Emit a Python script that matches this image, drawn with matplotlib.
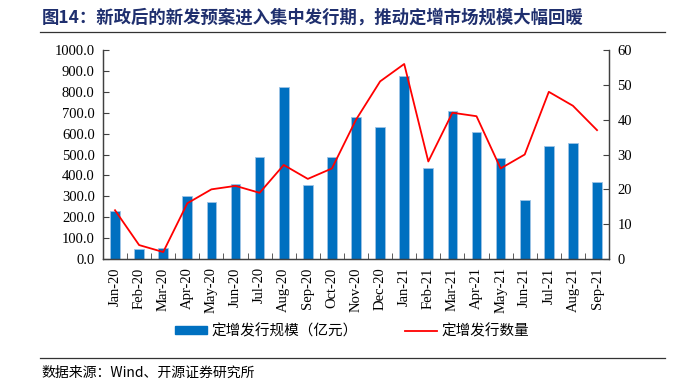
import matplotlib
matplotlib.use('Agg')
import matplotlib.pyplot as plt
from matplotlib.lines import Line2D
from matplotlib.patches import Patch
import numpy as np

# ============================= DATOS =================================
meses = ['Jan-20', 'Feb-20', 'Mar-20', 'Apr-20', 'May-20', 'Jun-20', 'Jul-20',
         'Aug-20', 'Sep-20', 'Oct-20', 'Nov-20', 'Dec-20', 'Jan-21', 'Feb-21',
         'Mar-21', 'Apr-21', 'May-21', 'Jun-21', 'Jul-21', 'Aug-21', 'Sep-21']
escala = [230, 49, 52, 302, 273, 358, 489, 821, 354, 488, 680, 630, 874, 435,
          710, 608, 481, 283, 543, 557, 368]   # 亿元
cantidad = [14, 4, 2, 16, 20, 21, 19, 27, 23, 26, 40, 51, 56, 28,
            42, 41, 26, 30, 48, 44, 37]

titulo = '图14：新政后的新发预案进入集中发行期，推动定增市场规模大幅回暖'
fuente = '数据来源：Wind、开源证券研究所'
leyenda_barras = '定增发行规模（亿元）'
leyenda_linea = '定增发行数量'

# ============================= ESTILO =================================
cjk = ['Noto Sans CJK SC', 'DejaVu Sans']
serif = 'Liberation Serif'
azul = '#0070C0'
rojo = '#FF0000'

fig = plt.figure(figsize=(6.73, 3.82), dpi=100)
ax = fig.add_axes([0.153, 0.322, 0.752, 0.547])
ax2 = ax.twinx()

x = np.arange(len(meses))
ax.bar(x, escala, width=0.4, color=azul, edgecolor='#9DC3E6', linewidth=0.6, zorder=2)
ax2.plot(x, cantidad, color=rojo, linewidth=1.3, zorder=3)

ax.set_xlim(-0.5, len(meses) - 0.5)
ax.set_ylim(0, 1000)
ax2.set_ylim(0, 60)
ax.set_yticks(np.arange(0, 1001, 100))
ax.set_yticklabels([f'{v:.1f}' for v in np.arange(0, 1001, 100)], fontfamily=serif, fontsize=10.5)
ax2.set_yticks(np.arange(0, 61, 10))
ax2.set_yticklabels([str(v) for v in range(0, 61, 10)], fontfamily=serif, fontsize=10.5)

ax.set_xticks(x)
ax.set_xticklabels(meses, rotation=90, fontfamily=serif, fontsize=10.5)
ax.tick_params(axis='x', which='major', length=0, pad=6)
ax.set_xticks(np.arange(0.5, len(meses) - 0.5, 1), minor=True)
ax.tick_params(axis='x', which='minor', direction='in', length=4, color='#404040')
ax.tick_params(axis='y', direction='in', length=4, color='#404040', pad=6)
ax2.tick_params(axis='y', direction='in', length=4, color='#404040', pad=6)

for a in (ax, ax2):
    a.spines['top'].set_visible(False)
    for s in ('left', 'right', 'bottom'):
        a.spines[s].set_color('#404040')
        a.spines[s].set_linewidth(0.9)

# Leyenda
handles = [Patch(facecolor=azul, edgecolor=azul),
           Line2D([0], [0], color=rojo, linewidth=1.3)]
fig.legend(handles, [leyenda_barras, leyenda_linea], loc='center',
           bbox_to_anchor=(0.523, 0.133), ncol=2, frameon=False,
           prop={'family': cjk, 'size': 10.5}, handlelength=2.2,
           handleheight=0.5, columnspacing=3.2, handletextpad=0.3)

# Título y fuente
fig.text(0.062, 0.953, titulo, fontsize=12.5, fontweight='bold', color='#1F2F6E',
         family=cjk, va='center', ha='left')
fig.add_artist(Line2D([0.06, 0.988], [0.917, 0.917], color='#333333', linewidth=0.9))
fig.add_artist(Line2D([0.06, 0.988], [0.062, 0.062], color='#333333', linewidth=0.9))
fig.text(0.062, 0.024, fuente, fontsize=10, family=cjk, va='center', ha='left')

fig.savefig('out.png', dpi=100)
